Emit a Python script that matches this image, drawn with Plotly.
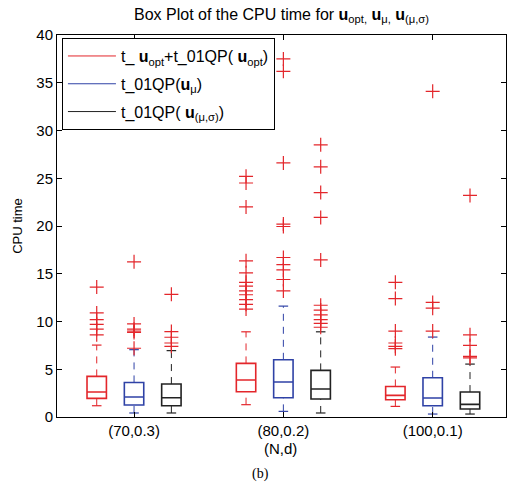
import plotly.graph_objects as go

# ---------------- data ----------------
categories = ["(70,0.3)", "(80,0.2)", "(100,0.1)"]
series_names = [
    "t_ <b>u</b><sub>opt</sub>+t_01QP( <b>u</b><sub>opt</sub>)",
    "t_01QP(<b>u</b><sub>μ</sub>)",
    "t_01QP( <b>u</b><sub>(μ,σ)</sub>)",
]

# u_opt (red)
opt_q1 = [1.95, 2.65, 1.81]
opt_median = [2.61, 3.87, 2.26]
opt_q3 = [4.25, 5.61, 3.20]
opt_lower = [1.18, 1.29, 1.11]
opt_upper = [7.53, 8.92, 5.23]
opt_outliers = [
    [13.6, 10.9, 10.2, 9.7, 9.2, 8.6],
    [25.2, 24.5, 22.0, 16.35, 15.1, 14.1, 13.7, 13.2, 12.8, 12.3, 11.8, 11.3],
    [14.1, 12.4, 9.0, 7.75, 7.4, 7.15],
]

# u_mu (blue)
mu_q1 = [1.26, 2.02, 1.18]
mu_median = [2.09, 3.66, 1.99]
mu_q3 = [3.62, 5.99, 4.11]
mu_lower = [0.42, 0.59, 0.31]
mu_upper = [7.05, 11.61, 8.37]
mu_outliers = [
    [16.25, 9.75, 9.2, 9.0, 8.85, 7.2],
    [37.5, 36.2, 26.6, 20.2, 19.95, 16.7, 15.95, 15.4, 14.4, 13.2],
    [34.1, 12.0, 11.4, 9.0],
]

# u_(mu,sigma) (black)
ms_q1 = [1.18, 1.88, 0.84]
ms_median = [2.02, 2.93, 1.32]
ms_q3 = [3.45, 4.88, 2.61]
ms_lower = [0.42, 0.42, 0.31]
ms_upper = [6.95, 8.92, 5.54]
ms_outliers = [
    [12.85, 8.95, 8.35, 7.75, 7.4],
    [28.5, 26.2, 23.5, 20.9, 16.45, 11.7, 11.2, 10.7, 10.2, 9.8, 9.4],
    [23.2, 8.6, 7.5, 6.35, 6.2],
]

# ---------------- styles ----------------
colors = ["#e3262b", "#2f42a6", "#222222"]
outlier_color = "#e3262b"
offsets = [-0.25, 0.0, 0.25]
BOX_W = 0.13
CAP_HALF = 0.032
FONT = "Liberation Sans, Arial, sans-serif"

series = [
    (opt_q1, opt_median, opt_q3, opt_lower, opt_upper, opt_outliers),
    (mu_q1, mu_median, mu_q3, mu_lower, mu_upper, mu_outliers),
    (ms_q1, ms_median, ms_q3, ms_lower, ms_upper, ms_outliers),
]
cat_pos = list(range(1, len(categories) + 1))

fig = go.Figure()

for s, (q1, med, q3, lo, hi, outs) in enumerate(series):
    col = colors[s]
    xs = [c + offsets[s] for c in cat_pos]
    # box + median
    fig.add_trace(go.Box(
        x=xs, q1=q1, median=med, q3=q3, lowerfence=q1, upperfence=q3,
        width=BOX_W, whiskerwidth=0, boxpoints=False,
        line=dict(color=col, width=1.6), fillcolor="rgba(0,0,0,0)",
        showlegend=False, hoverinfo="skip",
    ))
    # dashed whiskers
    wx, wy = [], []
    for i, p in enumerate(xs):
        wx += [p, p, None, p, p, None]
        wy += [q3[i], hi[i], None, lo[i], q1[i], None]
    fig.add_trace(go.Scatter(
        x=wx, y=wy, mode="lines", line=dict(color=col, width=1, dash="7px,6px"),
        showlegend=False, hoverinfo="skip",
    ))
    # caps
    cx, cy = [], []
    for i, p in enumerate(xs):
        cx += [p - CAP_HALF, p + CAP_HALF, None, p - CAP_HALF, p + CAP_HALF, None]
        cy += [hi[i], hi[i], None, lo[i], lo[i], None]
    fig.add_trace(go.Scatter(
        x=cx, y=cy, mode="lines", line=dict(color=col, width=1.2),
        showlegend=False, hoverinfo="skip",
    ))
    # outliers
    ox, oy = [], []
    for i, p in enumerate(xs):
        ox += [p] * len(outs[i])
        oy += outs[i]
    fig.add_trace(go.Scatter(
        x=ox, y=oy, mode="markers",
        marker=dict(symbol="cross-thin", size=10,
                    line=dict(color=outlier_color, width=1.2)),
        showlegend=False, hoverinfo="skip",
    ))

# legend entries
for s, name in enumerate(series_names):
    fig.add_trace(go.Scatter(
        x=[None], y=[None], mode="lines", name=name,
        line=dict(color=colors[s], width=1), legendgroup=str(s),
    ))

axis_common = dict(
    showline=True, linecolor="black", linewidth=1, mirror="ticks",
    ticks="inside", ticklen=5, tickcolor="black", showgrid=False,
    zeroline=False, tickfont=dict(family=FONT, size=15, color="black"),
)

fig.update_layout(
    width=507, height=485,
    margin=dict(l=57, r=1, t=35, b=68),
    paper_bgcolor="white", plot_bgcolor="white",
    boxmode="overlay",
    font=dict(family=FONT, size=15, color="black"),
    title=dict(
        text="Box Plot of the CPU time for <b>u</b><sub>opt,</sub> <b>u</b><sub>μ,</sub> <b>u</b><sub>(μ,σ)</sub>",
        x=0.5, xref="paper", xanchor="center",
        y=1 - 14 / 485, yref="container", yanchor="middle",
        font=dict(family=FONT, size=16, color="black"),
    ),
    xaxis=dict(range=[0.484, 3.491], tickvals=cat_pos, ticktext=categories, **axis_common),
    yaxis=dict(range=[0, 40], dtick=5,
               title=dict(text="CPU time", standoff=10,
                          font=dict(family=FONT, size=13, color="black")),
               **axis_common),
    legend=dict(
        x=0.011, y=0.992, xanchor="left", yanchor="top",
        bordercolor="black", borderwidth=1, bgcolor="white",
        font=dict(family=FONT, size=16, color="black"),
        itemwidth=48, tracegroupgap=4,
    ),
    annotations=[
        dict(text="(N,d)", x=(280.5 - 57) / 449, y=-(448.5 - 417.3) / 382.3, xref="paper", yref="paper",
             xanchor="center", yanchor="middle", showarrow=False,
             font=dict(family=FONT, size=15, color="black")),
        dict(text="(b)", x=(260 - 57) / 449, y=-(474 - 417.3) / 382.3,
             xref="paper", yref="paper", xanchor="center", yanchor="middle",
             showarrow=False,
             font=dict(family="Liberation Serif, Times New Roman, serif", size=14, color="black")),
    ],
)

fig.write_html(
    "out.html",
    config={"displayModeBar": False},
    post_script="document.body.style.margin='0';document.body.style.overflow='hidden';",
)
